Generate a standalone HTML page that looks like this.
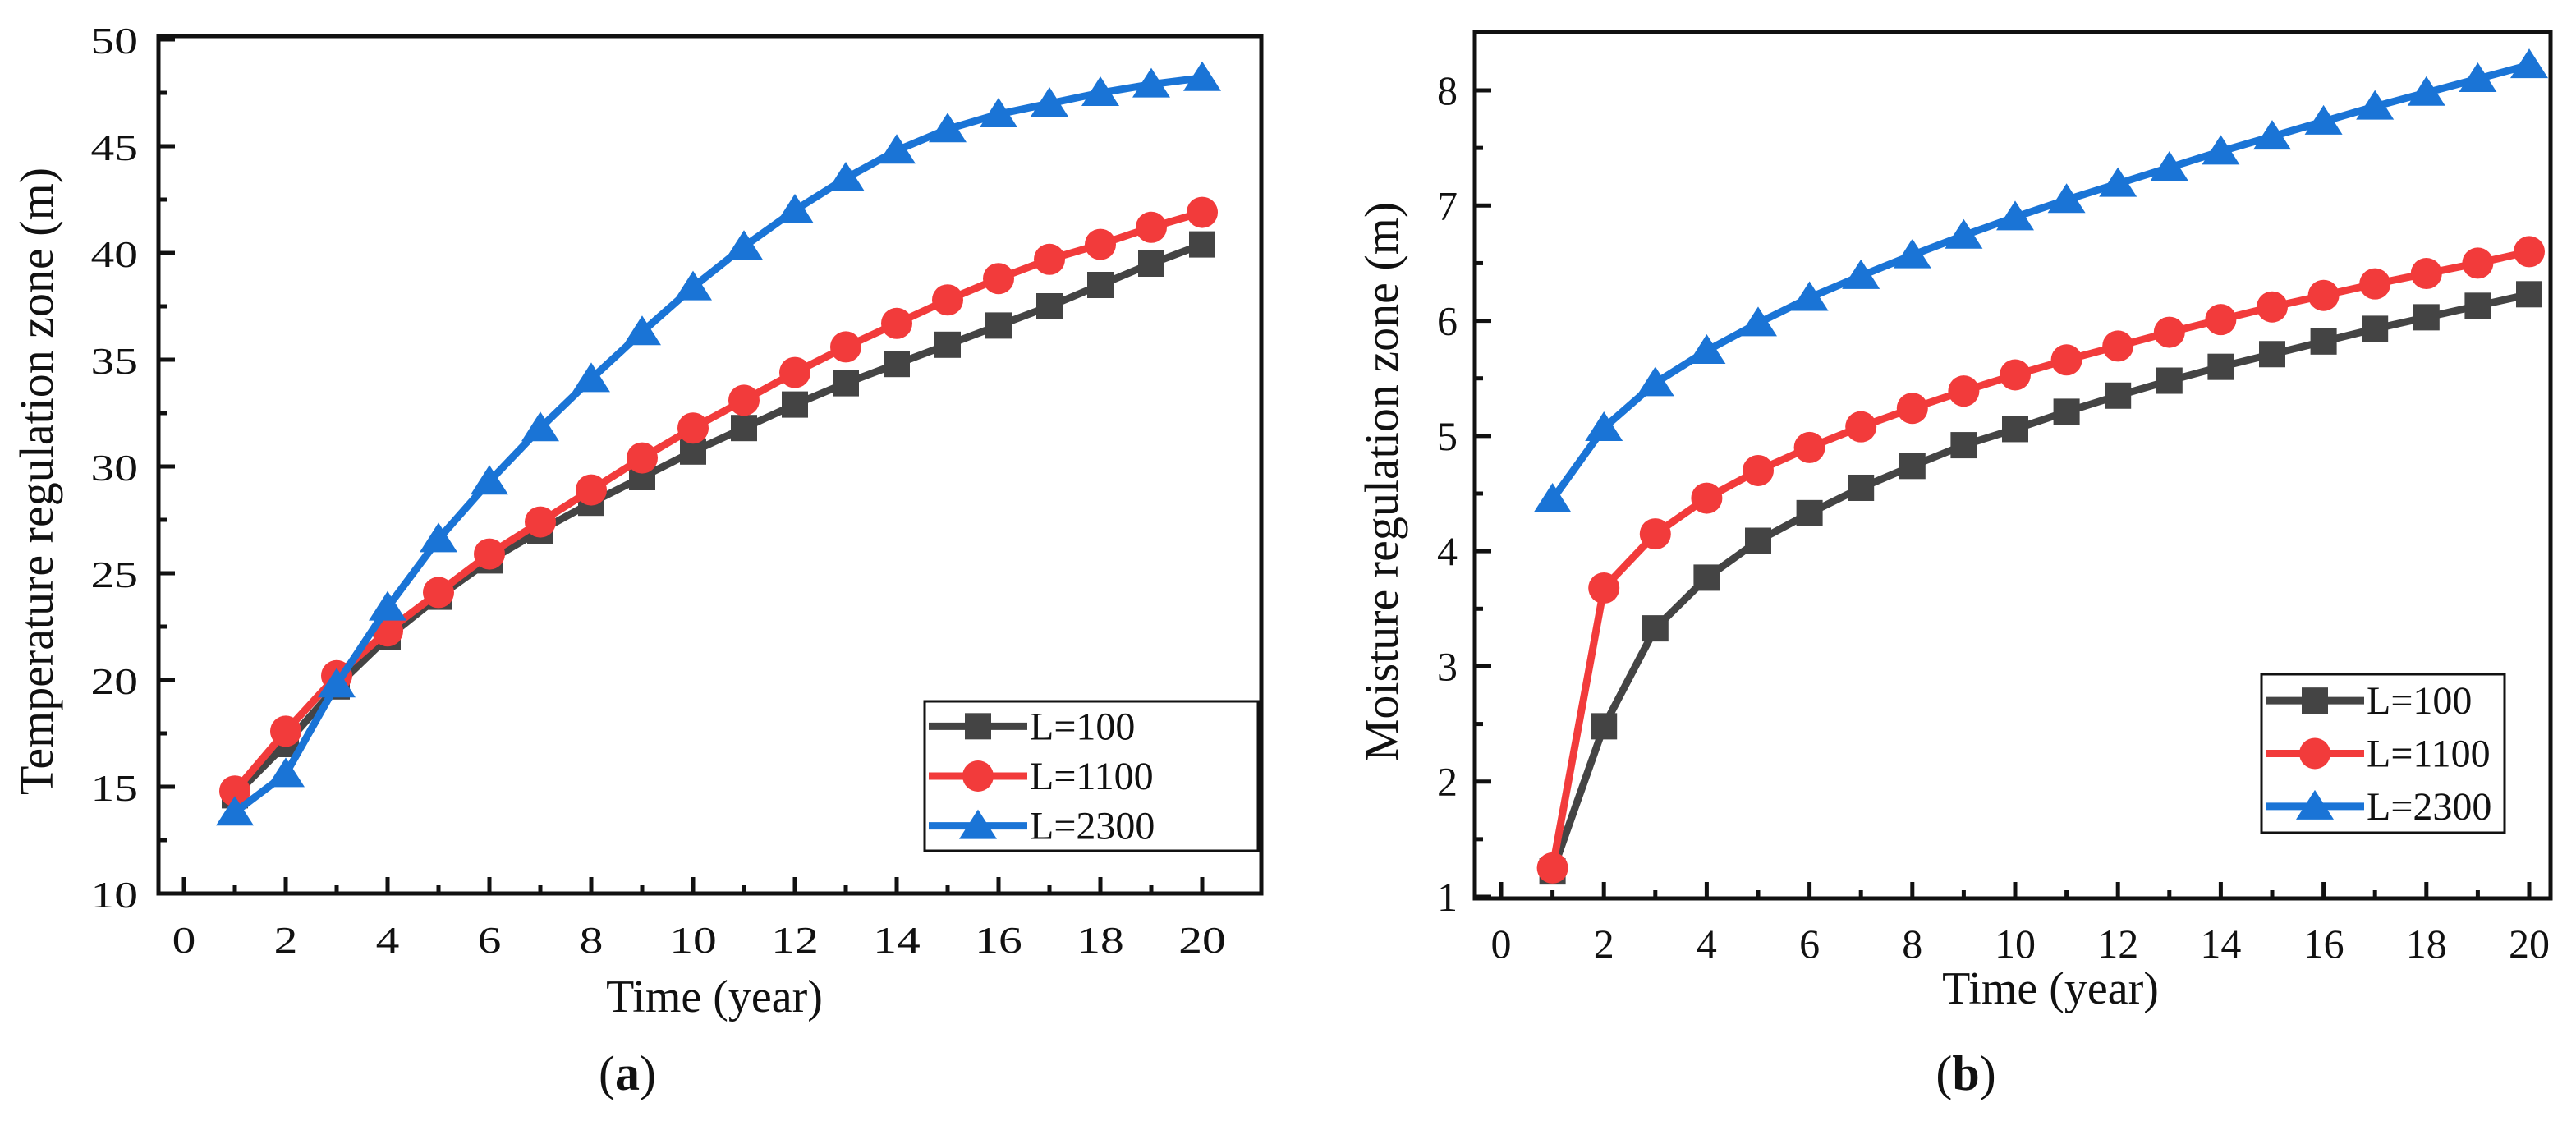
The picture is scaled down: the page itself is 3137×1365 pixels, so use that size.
<!DOCTYPE html>
<html><head><meta charset="utf-8"><style>
body{margin:0;background:#fff}
svg{display:block;font-family:"Liberation Serif",serif}
</style></head><body>
<svg id="s" width="3137" height="1365" viewBox="0 0 3137 1365"></svg>
<script>
const years=[1,2,3,4,5,6,7,8,9,10,11,12,13,14,15,16,17,18,19,20];
const tA100=[14.6,17.0,19.7,22.0,23.9,25.6,27.0,28.3,29.5,30.7,31.8,32.9,33.9,34.8,35.7,36.6,37.5,38.5,39.5,40.4];
const tA1100=[14.8,17.6,20.2,22.3,24.1,25.9,27.4,28.9,30.4,31.8,33.1,34.4,35.6,36.7,37.8,38.8,39.7,40.4,41.2,41.9];
const tA2300=[13.8,15.6,19.8,23.4,26.6,29.3,31.8,34.1,36.3,38.4,40.3,42.0,43.5,44.8,45.8,46.5,47.0,47.5,47.9,48.2];
const mB100=[1.22,2.48,3.33,3.77,4.09,4.33,4.55,4.74,4.92,5.06,5.21,5.35,5.48,5.6,5.71,5.82,5.93,6.03,6.13,6.23];
const mB1100=[1.25,3.68,4.15,4.46,4.70,4.90,5.08,5.24,5.39,5.53,5.66,5.78,5.9,6.01,6.12,6.22,6.32,6.41,6.5,6.6];
const mB2300=[4.45,5.07,5.46,5.74,5.98,6.2,6.39,6.57,6.74,6.9,7.05,7.19,7.33,7.47,7.6,7.73,7.86,7.98,8.1,8.22];
const xTicks=[0,2,4,6,8,10,12,14,16,18,20];
const yTicksA=[10,15,20,25,30,35,40,45,50];
const yTicksB=[1,2,3,4,5,6,7,8];
const legendLabels=["L=100","L=1100","L=2300"];
const colors=["#444444","#f23b3b","#1a74d6"];
const shapes=["square","circle","triangle"];
const NS="http://www.w3.org/2000/svg";
const svg=document.getElementById('s');
function mk(t,a,p){const e=document.createElementNS(NS,t);for(const k in a)e.setAttribute(k,a[k]);(p||svg).appendChild(e);return e;}
function marker(g,shape,x,y,c,sz){
  if(shape==="square")return mk('rect',{x:x-sz/2,y:y-sz/2,width:sz,height:sz,fill:c},g);
  if(shape==="circle")return mk('circle',{cx:x,cy:y,r:sz/2+3,fill:c},g);
  return mk('polygon',{points:`${x},${y-sz/2-4} ${x-sz/2-7},${y+sz/2} ${x+sz/2+7},${y+sz/2}`,fill:c},g);
}
function chart(cfg){
  const {L,T,R,B,x0,x20,ymin,ymax,y0px,y1px,yTicks,minor,series,name,ytitle,ytx,xtitleX,xtitleY,cap,capX,leg,tickFont,ytickX,stretch}=cfg;
  const g=mk('g',{});
  
  
  const X=v=>x0+(x20-x0)*v/20;
  const Y=v=>y0px+(y1px-y0px)*(v-ymin)/(ymax-ymin);
  const fr=mk('rect',{x:L,y:T,width:R-L,height:B-T,fill:'none',stroke:'#111','stroke-width':5},g);
  
  for(let v=0;v<=20;v++){mk('line',{x1:X(v),x2:X(v),y1:B,y2:B-(v%2?10:20),stroke:'#111','stroke-width':5},g);}
  xTicks.forEach(v=>{const t=mk('text',{x:X(v),y:B+72,'text-anchor':'middle','font-size':tickFont,fill:'#111',transform:stretch?`translate(${X(v)},0) scale(1.25,1) translate(${-X(v)},0)`:''},g);t.textContent=v;
    });
  yTicks.forEach((v,i)=>{const y=Y(v);mk('line',{x1:L,x2:L+20,y1:y,y2:y,stroke:'#111','stroke-width':5},g);
    if(i<yTicks.length-1){const ym=Y(v+minor);mk('line',{x1:L,x2:L+10,y1:ym,y2:ym,stroke:'#111','stroke-width':5},g);}
    const t=mk('text',{x:ytickX,y:y+17,'text-anchor':'end','font-size':tickFont,fill:'#111',transform:stretch?`translate(${ytickX},0) scale(1.25,1) translate(${-ytickX},0)`:''},g);t.textContent=v;
    });
  series.forEach((s,i)=>{
    const sg=mk('g',{},g);
    
    
    mk('polyline',{points:s.map((v,j)=>X(years[j])+','+Y(v)).join(' '),fill:'none',stroke:colors[i],'stroke-width':9},sg);
    s.forEach((v,j)=>marker(sg,shapes[i],X(years[j]),Y(v),colors[i],32));
  });
  const lg=mk('g',{},g);
  
  mk('rect',{x:leg[0],y:leg[1],width:leg[2]-leg[0],height:leg[3]-leg[1],fill:'#fff',stroke:'#111','stroke-width':3},lg);
  const rh=(leg[3]-leg[1])/3;
  legendLabels.forEach((lab,i)=>{const y=leg[1]+rh*(i+0.5);
    mk('line',{x1:leg[0]+5,x2:leg[0]+125,y1:y,y2:y,stroke:colors[i],'stroke-width':9},lg);
    marker(lg,shapes[i],leg[0]+65,y,colors[i],32);
    const t=mk('text',{x:leg[0]+128,y:y+16,'font-size':48,fill:'#111'},lg);t.textContent=lab;
    });
  let t=mk('text',{x:xtitleX,y:xtitleY,'text-anchor':'middle','font-size':56,fill:'#111'},g);t.textContent='Time (year)';
  
  t=mk('text',{x:0,y:0,transform:`translate(${ytx},${(T+B)/2+20}) rotate(-90)`,'text-anchor':'middle','font-size':58,fill:'#111'},g);t.textContent=ytitle;
  
  t=mk('text',{x:capX,y:1327,'text-anchor':'middle','font-size':60,fill:'#111'},g);
  t.innerHTML='(<tspan font-weight="bold">'+cap+'</tspan>)';
  
}
chart({name:'chart-a',L:193,T:44,R:1536,B:1088,x0:224,x20:1464,ymin:10,ymax:50,y0px:1088,y1px:48,yTicks:yTicksA,minor:2.5,
  series:[tA100,tA1100,tA2300],ytitle:'Temperature regulation zone (m)',ytx:64,xtitleX:870,xtitleY:1232,cap:'a',capX:764,
  leg:[1126,854,1532,1036],tickFont:46,ytickX:168,stretch:true});
chart({name:'chart-b',L:1796,T:39,R:3106,B:1094,x0:1828,x20:3080,ymin:1,ymax:8,y0px:1092,y1px:110,yTicks:yTicksB,minor:0.5,
  series:[mB100,mB1100,mB2300],ytitle:'Moisture regulation zone (m)',ytx:1702,xtitleX:2497,xtitleY:1222,cap:'b',capX:2394,
  leg:[2754,821,3050,1014],tickFont:50,ytickX:1775,stretch:false});
</script>
</body></html>
